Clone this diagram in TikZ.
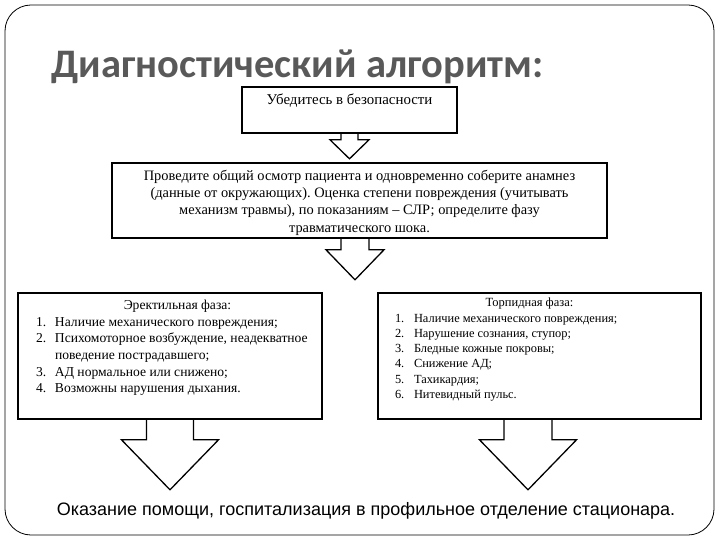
\documentclass[tikz,border=0pt]{standalone}
\usepackage{fontspec}
\setmainfont{Liberation Serif}
\newfontfamily\titlefont{Carlito}
\newfontfamily\arialfont{Liberation Sans}
\usepackage{array}
\usepackage{xcolor}
\usepackage{tikz}
\usetikzlibrary{calc}
\definecolor{titlegray}{HTML}{595959}
\frenchspacing

\begin{document}
\begin{tikzpicture}[x=1pt,y=-1pt,
box/.style={draw,line width=1.6pt,inner sep=3pt},
blk/.style={draw,line width=1.3pt,line join=miter}]
\useasboundingbox(0,0)rectangle(720,540);
\draw[line width=0.8pt,rounded corners=26pt](5,5)rectangle(714,535);
\node[anchor=base west,font=\titlefont\bfseries\fontsize{40.5}{42}\selectfont,text=titlegray](title)at(48,78){Диагностический алгоритм:};
\node[box](safe)at(349.5,110){\parbox[c][40pt][t]{209pt}{\centering\fontsize{14.9}{17}\selectfont\vspace*{4pt}Убедитесь в безопасности}};
\node[box](exam)at(359.5,200.5){\parbox[c][69pt][t]{489pt}{\centering\fontsize{14.4}{17.3}\selectfont\vspace*{4pt}Проведите общий осмотр пациента и одновременно соберите анамнез\\(данные от окружающих). Оценка степени повреждения (учитывать\\механизм травмы), по показаниям – СЛР; определите фазу\\травматического шока.}};
\node[box](erect)at(170,356){\parbox[c][120pt][t]{298pt}{\fontsize{13.6}{16.6}\selectfont\vspace*{2pt}\hspace*{15pt}\begin{tabular}{@{}p{19pt}@{}>{\raggedright\arraybackslash}p{264pt}@{}}
\multicolumn{2}{c}{Эректильная фаза:}\\
1.&Наличие механического повреждения;\\
2.&Психомоторное возбуждение, неадекватное поведение пострадавшего;\\
3.&АД нормальное или снижено;\\
4.&Возможны нарушения дыхания.
\end{tabular}}};
\node[box](torp)at(539.5,356){\parbox[c][120pt][t]{317pt}{\fontsize{12.4}{15.3}\selectfont\hspace*{14pt}\begin{tabular}{@{}p{19pt}@{}>{\raggedright\arraybackslash}p{250pt}@{}}
\multicolumn{2}{c}{\fontsize{12.5}{13}\selectfont Торпидная фаза:}\\
1.&Наличие механического повреждения;\\
2.&Нарушение сознания, ступор;\\
3.&Бледные кожные покровы;\\
4.&Снижение АД;\\
5.&Тахикардия;\\
6.&Нитевидный пульс.
\end{tabular}}};
\node[font=\arialfont\fontsize{18}{20}\selectfont](help)at(366,511){Оказание помощи, госпитализация в профильное отделение стационара.};
\foreach\nm/\dx/\s/\l/\h/\t in{safe/0/8.5/6/19.5/19,exam/-4.5/14/11/29/30,erect/0/23.5/20/48.5/50,torp/-11.5/24/20/48.5/50}
\draw[blk]($(\nm.south)+(\dx-\s,0)$)--++(0,\l)--++(\s-\h,0)--++(\h,\t)--++(\h,-\t)--++(\s-\h,0)--++(0,-\l);
\end{tikzpicture}
\end{document}
